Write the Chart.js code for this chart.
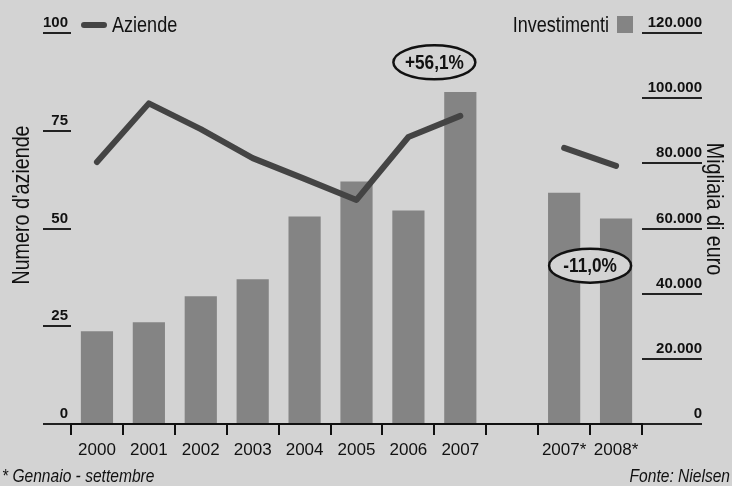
<!DOCTYPE html>
<html lang="it">
<head>
<meta charset="utf-8">
<title>Aziende e investimenti</title>
<script src="https://cdn.jsdelivr.net/npm/chart.js@4.4.1/dist/chart.umd.min.js"></script>
<style>
  html, body { margin: 0; padding: 0; background: #d3d3d3; }
  #wrap { position: relative; width: 732px; height: 486px; }
</style>
</head>
<body>
<div id="wrap"><canvas id="aziendeChart"></canvas></div>
<script>
// Dati
const anni = ['2000', '2001', '2002', '2003', '2004', '2005', '2006', '2007', '', '2007*', '2008*'];
const aziende = [67, 82, 75.4, 68, 62.7, 57.3, 73.4, 78.8, null, 70.6, 66];
const investimenti = [28500, 31200, 39200, 44400, 63700, 74400, 65500, 101900, null, 71000, 63100];
const tickAziende = [0, 25, 50, 75, 100];
const tickInvestimenti = [0, 20000, 40000, 60000, 80000, 100000, 120000];
const variazioni = ['+56,1%', '-11,0%'];

const FONT = "'Liberation Sans', Arial, sans-serif";
const SFONDO = '#d3d3d3';
const BARRE = '#848484';
const LINEA = '#444444';
const NERO = '#111111';

Chart.defaults.font.family = FONT;

// 120000 -> "120.000"
function formatta(v) {
    return String(v).replace(/\B(?=(\d{3})+(?!\d))/g, '.');
}

// testo "stretto" come nell'originale (compresso in larghezza)
function testo(ctx, str, x, y, font) {
    ctx.font = font + ' ' + FONT;
    const w = ctx.measureText(str).width;
    ctx.fillText(str, x, y, w * 0.82);
}

function ellisse(ctx, cx, cy, str) {
    ctx.beginPath();
    ctx.ellipse(cx, cy, 41, 17, 0, 0, Math.PI * 2);
    ctx.fillStyle = SFONDO;
    ctx.fill();
    ctx.lineWidth = 2.5;
    ctx.strokeStyle = NERO;
    ctx.stroke();
    ctx.fillStyle = NERO;
    ctx.textAlign = 'center';
    ctx.textBaseline = 'middle';
    testo(ctx, str, cx, cy + 1, 'bold 21px');
}

// Sfondo, legenda, titoli degli assi, ellissi e note
const decorazioni = {
    id: 'decorazioni',
    beforeDraw(chart) {
        const { ctx, width, height } = chart;
        ctx.save();
        ctx.fillStyle = SFONDO;
        ctx.fillRect(0, 0, width, height);
        ctx.restore();
    },
    afterDraw(chart) {
        const { ctx, scales } = chart;
        ctx.save();

        // legenda
        ctx.lineCap = 'round';
        ctx.strokeStyle = LINEA;
        ctx.lineWidth = 6;
        ctx.beginPath();
        ctx.moveTo(84, 25);
        ctx.lineTo(104, 25);
        ctx.stroke();
        ctx.fillStyle = NERO;
        ctx.textBaseline = 'middle';
        ctx.textAlign = 'left';
        testo(ctx, chart.data.datasets[0].label, 112, 26, '22px');
        ctx.textAlign = 'right';
        testo(ctx, chart.data.datasets[1].label, 609, 26, '22px');
        ctx.fillStyle = BARRE;
        ctx.fillRect(617, 16, 16, 17);

        // titoli degli assi
        ctx.fillStyle = NERO;
        ctx.textAlign = 'center';
        ctx.save();
        ctx.translate(22, 205);
        ctx.rotate(-Math.PI / 2);
        testo(ctx, "Numero d'aziende", 0, 0, '24px');
        ctx.restore();
        ctx.save();
        ctx.translate(714, 209);
        ctx.rotate(Math.PI / 2);
        testo(ctx, 'Migliaia di euro', 0, 0, '24px');
        ctx.restore();

        // variazioni
        const x = scales.x, y = scales.y;
        ellisse(ctx, (x.getPixelForValue(6) + x.getPixelForValue(7)) / 2, y.getPixelForValue(92.5), variazioni[0]);
        ellisse(ctx, (x.getPixelForValue(9) + x.getPixelForValue(10)) / 2, y.getPixelForValue(40.5), variazioni[1]);

        // note
        ctx.fillStyle = NERO;
        ctx.textBaseline = 'alphabetic';
        ctx.textAlign = 'left';
        testo(ctx, '* Gennaio - settembre', 2, 482, 'italic 19px');
        ctx.textAlign = 'right';
        testo(ctx, 'Fonte: Nielsen', 730, 482, 'italic 19px');

        ctx.restore();
    }
};

const ctx = document.getElementById('aziendeChart').getContext('2d');
const aziendeChart = new Chart(ctx, {
    type: 'bar',
    data: {
        labels: anni,
        datasets: [
            {
                label: 'Aziende',
                type: 'line',
                data: aziende,
                yAxisID: 'y',
                borderColor: LINEA,
                borderWidth: 6,
                borderCapStyle: 'round',
                borderJoinStyle: 'round',
                pointRadius: 0,
                tension: 0,
                spanGaps: false,
                fill: false,
                order: 0
            },
            {
                label: 'Investimenti',
                data: investimenti,
                yAxisID: 'y1',
                backgroundColor: BARRE,
                borderWidth: 0,
                categoryPercentage: 1,
                barPercentage: 0.62,
                order: 1
            }
        ]
    },
    options: {
        responsive: true,
        maintainAspectRatio: false,
        animation: false,
        layout: {
            padding: { top: 33, left: 0, right: 0, bottom: 0 }
        },
        scales: {
            x: {
                grid: {
                    offset: true,
                    drawOnChartArea: false,
                    drawTicks: true,
                    tickLength: 11,
                    color: NERO,
                    lineWidth: 2
                },
                border: { display: true, color: NERO, width: 2 },
                ticks: {
                    color: NERO,
                    font: { size: 17 },
                    padding: 5,
                    maxRotation: 0,
                    autoSkip: false
                },
                afterFit: function(scale) {
                    scale.height = 62;
                }
            },
            y: {
                position: 'left',
                min: 0,
                max: 100,
                afterBuildTicks: function(scale) {
                    scale.ticks = tickAziende.map(v => ({ value: v }));
                },
                grid: {
                    drawOnChartArea: false,
                    drawTicks: true,
                    tickLength: 28,
                    color: '#222222',
                    lineWidth: 2
                },
                border: { display: false },
                ticks: {
                    color: NERO,
                    padding: -25,
                    labelOffset: -10,
                    font: { size: 15, weight: 'bold' }
                },
                afterFit: function(scale) {
                    scale.width = 71;
                    scale.paddingTop = 0;
                    scale.paddingBottom = 0;
                }
            },
            y1: {
                position: 'right',
                min: 0,
                max: 120000,
                afterBuildTicks: function(scale) {
                    scale.ticks = tickInvestimenti.map(v => ({ value: v }));
                },
                grid: {
                    drawOnChartArea: false,
                    drawTicks: true,
                    tickLength: 60,
                    color: '#222222',
                    lineWidth: 2
                },
                border: { display: false },
                ticks: {
                    color: NERO,
                    mirror: true,
                    padding: 60,
                    labelOffset: -10,
                    font: { size: 15, weight: 'bold' },
                    callback: function(value) {
                        return formatta(value);
                    }
                },
                afterFit: function(scale) {
                    scale.width = 90;
                    scale.paddingTop = 0;
                    scale.paddingBottom = 0;
                }
            }
        },
        plugins: {
            legend: { display: false },
            tooltip: { enabled: false }
        }
    },
    plugins: [decorazioni]
});
</script>
</body>
</html>
